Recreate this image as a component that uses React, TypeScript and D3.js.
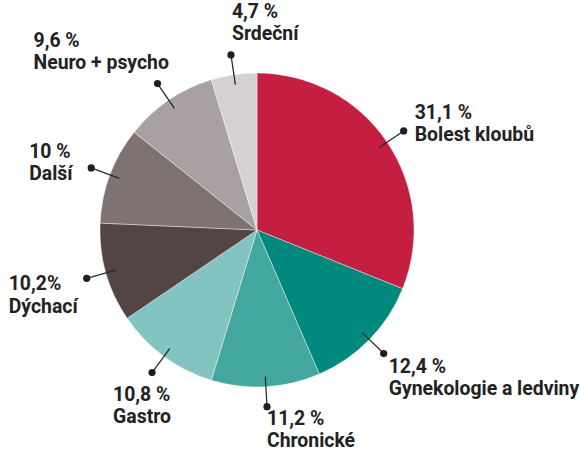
import React from "react";
import * as d3 from "d3";

const categories = ["Bolest kloubů", "Gynekologie a ledviny", "Chronické", "Gastro", "Dýchací", "Další", "Neuro + psycho", "Srdeční"];
const values = [31.1, 12.4, 11.2, 10.8, 10.2, 10, 9.6, 4.7];
const valueLabels = ["31,1 %", "12,4 %", "11,2 %", "10,8 %", "10,2%", "10 %", "9,6 %", "4,7 %"];
const colors = ["#c41f40", "#00897c", "#43a69f", "#82c4bf", "#524544", "#7e7272", "#a9a1a1", "#d5d1d1"];
// label offset from the leader dot to the first text baseline
const labelDx = [11, 5, 0, -39, -78, -62, -124, 1];
const labelDy = [-12, 19, 18, 28, 12, -10, -37, -37];

const W = 580;
const H = 452;
const cx = 257;
const cy = 230;
const R = 157;
const rInner = 147;
const rDot = 177;

export default function App() {
  const pie = d3.pie<number>().sort(null).value((d) => d);
  const arcs = pie(values);
  const arc = d3.arc<d3.PieArcDatum<number>>().innerRadius(0).outerRadius(R);
  const pt = (a: number, r: number) => [Math.sin(a) * r, -Math.cos(a) * r];

  return (
    <svg width={W} height={H} style={{ position: "absolute", left: 0, top: 0 }}>
      <g transform={`translate(${cx},${cy})`}>
        {arcs.map((d, i) => (
          <path key={i} d={arc(d) || ""} fill={colors[i]} stroke="#fff" strokeWidth={0.4} />
        ))}
        {arcs.map((d, i) => {
          const m = (d.startAngle + d.endAngle) / 2;
          const [x1, y1] = pt(m, rInner);
          const [x2, y2] = pt(m, rDot);
          const tx = x2 + labelDx[i];
          const ty = y2 + labelDy[i];
          return (
            <g key={"l" + i}>
              <line x1={x1} y1={y1} x2={x2} y2={y2} stroke="#2a2a2a" strokeWidth={1.3} />
              <circle cx={x2} cy={y2} r={3.6} fill="#1e1e1e" />
              <text
                x={tx}
                y={ty}
                fontFamily="Roboto, sans-serif"
                fontWeight={700}
                fontSize={19.4}
                fill="#222"
              >
                <tspan x={tx}>{valueLabels[i]}</tspan>
                <tspan x={tx} dy={22.4}>{categories[i]}</tspan>
              </text>
            </g>
          );
        })}
      </g>
    </svg>
  );
}
